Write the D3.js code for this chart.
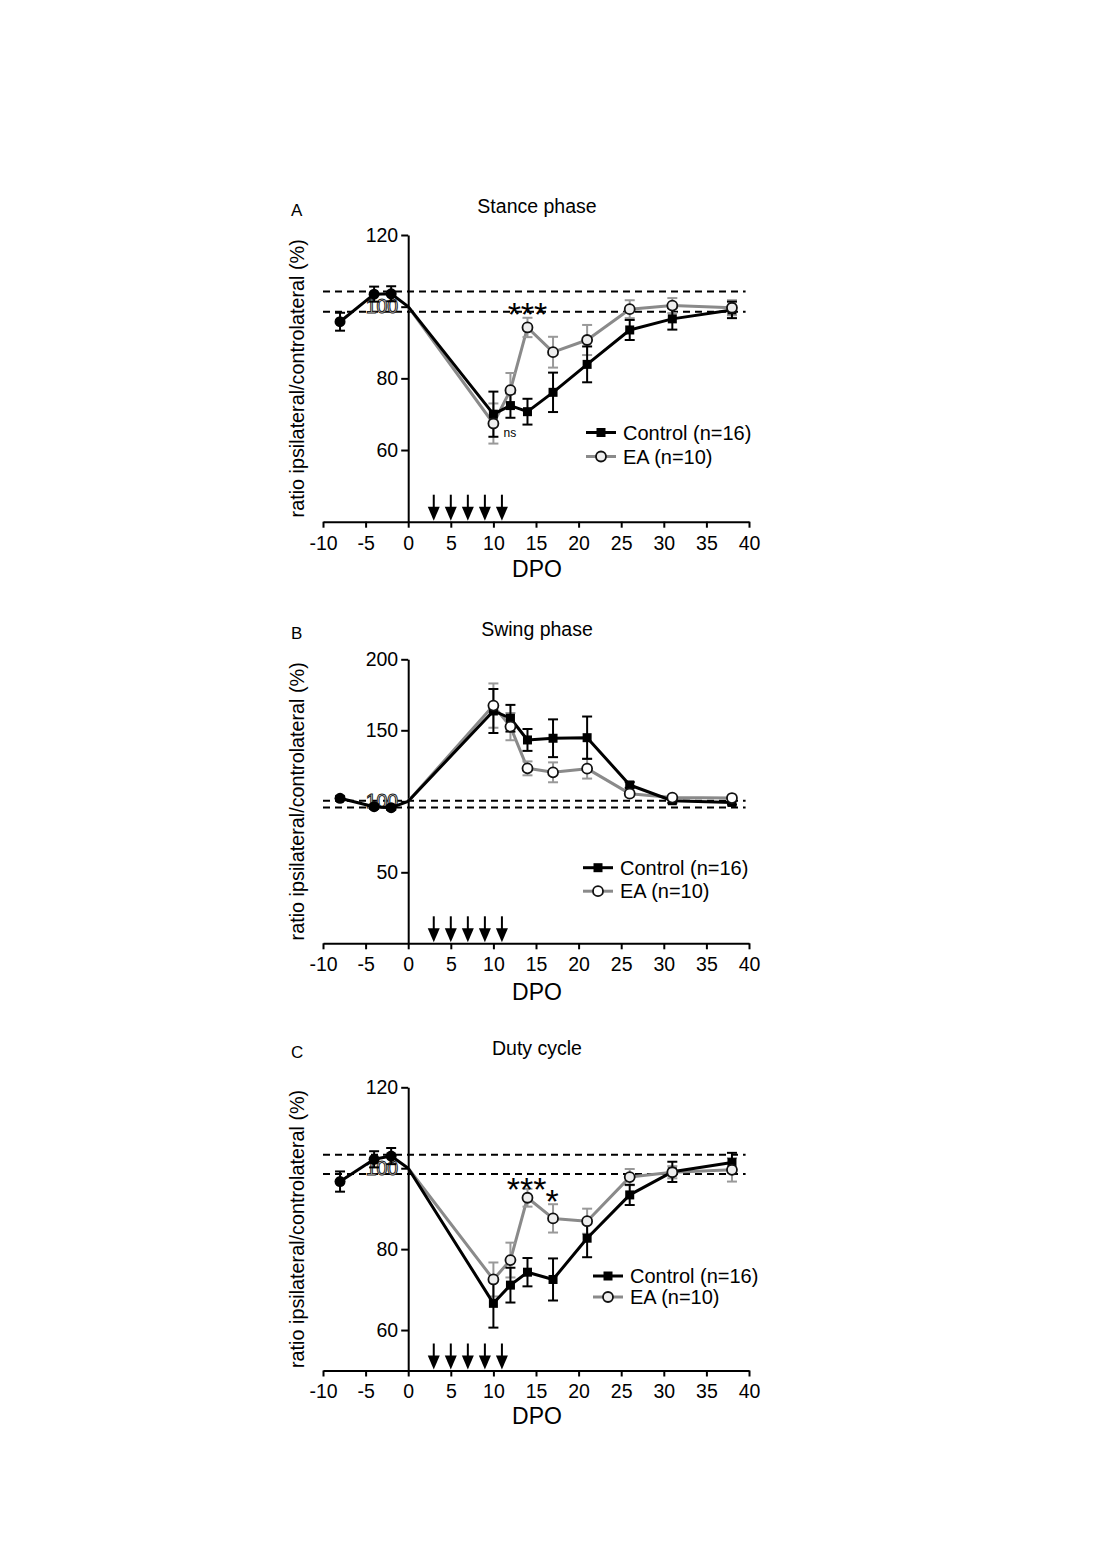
<!DOCTYPE html>
<html>
<head>
<meta charset="utf-8">
<script src="https://cdn.jsdelivr.net/npm/d3@7"></script>
<style>
  html, body { margin: 0; padding: 0; background: #fff; }
  svg { display: block; }
</style>
</head>
<body>
<svg id="chart" width="1102" height="1560"></svg>
<script>
// ---------------- DATA ----------------
const xTicks = [-10, -5, 0, 5, 10, 15, 20, 25, 30, 35, 40];
const preDays = [-8, -4, -2];
const day0 = 0;
const day0Value = 100;
const days = [10, 12, 14, 17, 21, 26, 31, 38];
const arrowDays = [3, 5, 7, 9, 11];
const seriesNames = ["Control (n=16)", "EA (n=10)"];
const yLabel = "ratio ipsilateral/controlateral (%)";
const xLabel = "DPO";

// Panel A - Stance phase
const stanceYTicks = [60, 80, 100, 120];
const stanceYDomain = [40, 120];
const stanceRef = [104.2, 98.6];
const stancePre = [95.8, 103.5, 103.6];
const stancePreErr = [2.5, 2.1, 2.1];
const stanceControl = [70.0, 72.4, 70.7, 76.1, 83.9, 93.5, 96.6, 99.1];
const stanceControlErr = [6.3, 3.4, 3.6, 5.5, 5.0, 2.8, 3.0, 2.3];
const stanceEA = [67.4, 76.7, 94.2, 87.3, 90.7, 99.3, 100.3, 99.7];
const stanceEAErr = [5.6, 4.8, 2.7, 4.3, 4.2, 2.5, 2.1, 2.1];

// Panel B - Swing phase
const swingYTicks = [50, 100, 150, 200];
const swingYDomain = [0, 200];
const swingRef = [100.4, 95.6];
const swingPre = [102.1, 96.2, 95.5];
const swingPreErr = [1.5, 1.5, 1.5];
const swingControl = [163.6, 158.5, 143.2, 144.4, 144.8, 111.5, 100.4, 99.2];
const swingControlErr = [15.5, 9.4, 7.7, 13.3, 14.9, 2.0, 1.5, 1.5];
const swingEA = [167.4, 152.6, 123.2, 120.4, 123.0, 105.4, 102.6, 102.3];
const swingEAErr = [15.6, 9.6, 4.9, 7.0, 7.0, 2.0, 1.5, 1.5];

// Panel C - Duty cycle
const dutyYTicks = [60, 80, 100, 120];
const dutyYDomain = [50, 120];
const dutyRef = [103.3, 98.6];
const dutyPre = [96.7, 102.2, 103.0];
const dutyPreErr = [2.5, 2.0, 2.0];
const dutyControl = [66.6, 71.1, 74.3, 72.5, 82.7, 93.4, 99.1, 101.4];
const dutyControlErr = [6.0, 4.3, 3.5, 5.2, 4.7, 2.5, 2.5, 2.4];
const dutyEA = [72.5, 77.3, 92.7, 87.6, 86.9, 97.8, 99.0, 99.6];
const dutyEAErr = [4.2, 4.3, 2.2, 3.5, 3.1, 2.0, 1.5, 2.9];

// Annotations (day, value, text)
const stanceNotes = [{ d: 14, v: 100.1, t: "***", size: 34 }, { d: 11.2, v: 64.7, t: "ns", size: 12 }];
const swingNotes = [];
const dutyNotes = [{ d: 13.9, v: 96.7, t: "***", size: 34 }, { d: 16.9, v: 93.8, t: "*", size: 34 }];

// ---------------- DRAW ----------------
const FONT = "'Liberation Sans', Arial, Helvetica, sans-serif";
const svg = d3.select("#chart");
const x = d3.scaleLinear().domain([-10, 40]).range([323, 749]);
const BLACK = "#000";
const GREY = "#8a8a8a";
const fmt = d => String(d);

function panel(cfg) {
  const y = d3.scaleLinear().domain(cfg.yDomain).range([cfg.yBottom, cfg.yTop]);
  const g = svg.append("g");

  // reference dashed lines
  cfg.ref.forEach(v => {
    g.append("line")
      .attr("x1", x(-10)).attr("x2", x(39.6))
      .attr("y1", y(v)).attr("y2", y(v))
      .attr("stroke", BLACK).attr("stroke-width", 2)
      .attr("stroke-dasharray", "7,5");
  });

  // x axis
  const xa = g.append("g")
    .attr("transform", `translate(0,${cfg.yBottom})`)
    .call(d3.axisBottom(x).tickValues(xTicks).tickFormat(fmt).tickSize(6).tickSizeOuter(0).tickPadding(8));
  xa.selectAll("path,line").attr("stroke", BLACK).attr("stroke-width", 2);
  xa.selectAll("text").attr("font-size", 19.5).attr("font-family", FONT).attr("fill", BLACK);

  // y axis
  const ya = g.append("g")
    .attr("transform", `translate(${x(0)},0)`)
    .call(d3.axisLeft(y).tickValues(cfg.yTicks).tickFormat(fmt).tickSize(7).tickSizeOuter(0).tickPadding(3));
  ya.selectAll("path,line").attr("stroke", BLACK).attr("stroke-width", 2);
  ya.selectAll("text").attr("font-size", 19.5).attr("font-family", FONT).attr("fill", BLACK);
  ya.selectAll(".tick").filter(d => d === 100).select("text")
    .attr("fill", "#fff").attr("stroke", "#222").attr("stroke-width", 1);

  // titles & labels
  g.append("text").attr("x", 537).attr("y", cfg.titleY)
    .attr("text-anchor", "middle").attr("font-size", 19.5).attr("font-family", FONT)
    .text(cfg.title);
  g.append("text").attr("x", 291).attr("y", cfg.titleY + 3)
    .attr("font-size", 17).attr("font-family", FONT)
    .text(cfg.letter);
  g.append("text")
    .attr("transform", `translate(304,${(cfg.yTop + cfg.yBottom) / 2}) rotate(-90)`)
    .attr("text-anchor", "middle").attr("font-size", 19.8).attr("font-family", FONT)
    .text(yLabel);
  g.append("text").attr("x", 537).attr("y", cfg.yBottom + cfg.dpoOffset)
    .attr("text-anchor", "middle").attr("font-size", 23).attr("font-family", FONT)
    .text(xLabel);

  // arrows
  arrowDays.forEach(d => {
    const ax = x(d), yb = cfg.yBottom - 1;
    g.append("line").attr("x1", ax).attr("x2", ax)
      .attr("y1", yb - 26).attr("y2", yb - 10)
      .attr("stroke", BLACK).attr("stroke-width", 2);
    g.append("path")
      .attr("d", `M${ax - 6},${yb - 14} L${ax + 6},${yb - 14} L${ax},${yb} Z`)
      .attr("fill", BLACK);
  });

  const line = d3.line().x(p => x(p[0])).y(p => y(p[1]));
  const preTs = preDays.map((d, i) => [d, cfg.pre[i], cfg.preErr[i]]);
  const ctrl = days.map((d, i) => [d, cfg.control[i], cfg.controlErr[i]]);
  const ea = days.map((d, i) => [d, cfg.ea[i], cfg.eaErr[i]]);

  function errbars(data, color) {
    data.forEach(p => {
      const cx = x(p[0]), y1 = y(p[1] + p[2]), y2 = y(p[1] - p[2]);
      g.append("line").attr("x1", cx).attr("x2", cx).attr("y1", y1).attr("y2", y2)
        .attr("stroke", color).attr("stroke-width", 2);
      [y1, y2].forEach(yy => g.append("line").attr("x1", cx - 5).attr("x2", cx + 5)
        .attr("y1", yy).attr("y2", yy).attr("stroke", color).attr("stroke-width", 2));
    });
  }

  // EA line & errors (grey)
  g.append("path").datum([[day0, day0Value]].concat(ea.map(p => [p[0], p[1]])))
    .attr("d", line).attr("fill", "none").attr("stroke", GREY).attr("stroke-width", 3)
    .attr("stroke-linejoin", "round");
  errbars(ea, "#999");

  // Control line & errors (black)
  g.append("path").datum(preTs.map(p => [p[0], p[1]]).concat([[day0, day0Value]], ctrl.map(p => [p[0], p[1]])))
    .attr("d", line).attr("fill", "none").attr("stroke", BLACK).attr("stroke-width", 3)
    .attr("stroke-linejoin", "round");
  errbars(ctrl, BLACK);
  errbars(preTs, BLACK);

  // markers
  ctrl.forEach(p => g.append("rect").attr("x", x(p[0]) - 4.5).attr("y", y(p[1]) - 4.5)
    .attr("width", 9).attr("height", 9).attr("fill", BLACK));
  preTs.forEach(p => g.append("circle").attr("cx", x(p[0])).attr("cy", y(p[1])).attr("r", 5.5)
    .attr("fill", BLACK));
  ea.forEach(p => g.append("circle").attr("cx", x(p[0])).attr("cy", y(p[1])).attr("r", 5)
    .attr("fill", cfg.eaFill).attr("stroke", "#111").attr("stroke-width", 1.8));

  // annotations
  cfg.notes.forEach(n => {
    const isStar = n.t.indexOf("*") >= 0;
    g.append("text").attr("x", x(n.d)).attr("y", isStar ? y(n.v) + 0.57 * n.size : y(n.v) + 4)
      .attr("text-anchor", isStar ? "middle" : "start")
      .attr("font-size", n.size).attr("font-family", FONT)
      .text(n.t);
  });

  // legend
  const lg = g.append("g");
  const lx = cfg.legendX, ly = cfg.legendY, dy = cfg.legendDy;
  lg.append("line").attr("x1", lx).attr("x2", lx + 30).attr("y1", ly).attr("y2", ly)
    .attr("stroke", BLACK).attr("stroke-width", 3);
  lg.append("rect").attr("x", lx + 15 - 4.5).attr("y", ly - 4.5).attr("width", 9).attr("height", 9)
    .attr("fill", BLACK);
  lg.append("line").attr("x1", lx).attr("x2", lx + 30).attr("y1", ly + dy).attr("y2", ly + dy)
    .attr("stroke", GREY).attr("stroke-width", 3);
  lg.append("circle").attr("cx", lx + 15).attr("cy", ly + dy).attr("r", 5)
    .attr("fill", cfg.eaFill).attr("stroke", "#111").attr("stroke-width", 1.8);
  [seriesNames[0], seriesNames[1]].forEach((t, i) => {
    lg.append("text").attr("x", lx + 37).attr("y", ly + i * dy + 7)
      .attr("font-size", 20).attr("font-family", FONT).text(t);
  });
}

panel({
  title: "Stance phase", letter: "A", titleY: 213,
  yTop: 235, yBottom: 521.7, yDomain: stanceYDomain, yTicks: stanceYTicks,
  ref: stanceRef, pre: stancePre, preErr: stancePreErr,
  control: stanceControl, controlErr: stanceControlErr, ea: stanceEA, eaErr: stanceEAErr,
  notes: stanceNotes, eaFill: "#eee", dpoOffset: 55,
  legendX: 586, legendY: 432.5, legendDy: 24
});
panel({
  title: "Swing phase", letter: "B", titleY: 636,
  yTop: 659.3, yBottom: 943.3, yDomain: swingYDomain, yTicks: swingYTicks,
  ref: swingRef, pre: swingPre, preErr: swingPreErr,
  control: swingControl, controlErr: swingControlErr, ea: swingEA, eaErr: swingEAErr,
  notes: swingNotes, eaFill: "#fff", dpoOffset: 57,
  legendX: 583, legendY: 867.7, legendDy: 23.5
});
panel({
  title: "Duty cycle", letter: "C", titleY: 1055,
  yTop: 1087.3, yBottom: 1370.5, yDomain: dutyYDomain, yTicks: dutyYTicks,
  ref: dutyRef, pre: dutyPre, preErr: dutyPreErr,
  control: dutyControl, controlErr: dutyControlErr, ea: dutyEA, eaErr: dutyEAErr,
  notes: dutyNotes, eaFill: "#eee", dpoOffset: 53,
  legendX: 593, legendY: 1276, legendDy: 21
});
</script>
</body>
</html>
